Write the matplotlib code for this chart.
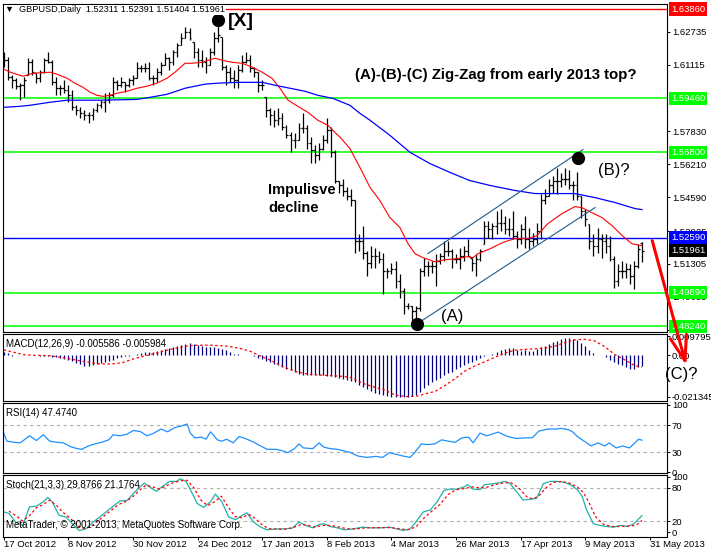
import matplotlib
matplotlib.use("Agg")
import matplotlib.pyplot as plt
from matplotlib.patches import FancyArrowPatch

plt.rcParams['font.family'] = ['Liberation Sans', 'DejaVu Sans']

W, H = 711, 551

# ---- data ----
dates = ["17 Oct 2012", "8 Nov 2012", "30 Nov 2012", "24 Dec 2012", "17 Jan 2013",
         "8 Feb 2013", "4 Mar 2013", "26 Mar 2013", "17 Apr 2013", "9 May 2013", "31 May 2013"]
date_bars = [0, 16, 32, 48, 64, 80, 96, 112, 128, 144, 160]

high = [1.6174, 1.6149, 1.6060, 1.6045, 1.6021, 1.6050, 1.6144, 1.6139, 1.6070, 1.6085,
        1.6144, 1.6174, 1.6134, 1.6050, 1.6011, 1.6035, 1.6011, 1.5986, 1.5912, 1.5902,
        1.5887, 1.5877, 1.5897, 1.5922, 1.5937, 1.5971, 1.5976, 1.6050, 1.6035, 1.6050,
        1.6025, 1.6045, 1.6060, 1.6124, 1.6109, 1.6119, 1.6124, 1.6060, 1.6095, 1.6124,
        1.6169, 1.6149, 1.6184, 1.6218, 1.6267, 1.6297, 1.6292, 1.6223, 1.6193, 1.6184,
        1.6149, 1.6193, 1.6272, 1.6381, 1.6248, 1.6109, 1.6100, 1.6085, 1.6109, 1.6159,
        1.6174, 1.6159, 1.6100, 1.6075, 1.6035, 1.5951, 1.5897, 1.5887, 1.5897, 1.5872,
        1.5813, 1.5778, 1.5774, 1.5823, 1.5872, 1.5813, 1.5754, 1.5714, 1.5724, 1.5764,
        1.5848, 1.5803, 1.5690, 1.5541, 1.5551, 1.5507, 1.5502, 1.5443, 1.5280, 1.5319,
        1.5196, 1.5220, 1.5210, 1.5196, 1.5186, 1.5112, 1.5136, 1.5146, 1.5082, 1.5013,
        1.4939, 1.4924, 1.4924, 1.5112, 1.5161, 1.5146, 1.5146, 1.5181, 1.5186, 1.5245,
        1.5245, 1.5205, 1.5181, 1.5210, 1.5220, 1.5255, 1.5161, 1.5181, 1.5205, 1.5344,
        1.5344, 1.5334, 1.5393, 1.5403, 1.5368, 1.5359, 1.5393, 1.5294, 1.5329, 1.5368,
        1.5309, 1.5284, 1.5334, 1.5477, 1.5502, 1.5551, 1.5566, 1.5601, 1.5576, 1.5601,
        1.5591, 1.5541, 1.5581, 1.5467, 1.5403, 1.5329, 1.5280, 1.5309, 1.5280, 1.5280,
        1.5270, 1.5171, 1.5131, 1.5146, 1.5136, 1.5131, 1.5146, 1.5230, 1.52391]
low = [1.6100, 1.6035, 1.5996, 1.5991, 1.5937, 1.5951, 1.6060, 1.6060, 1.6021, 1.6025,
       1.6070, 1.6119, 1.6011, 1.5961, 1.5961, 1.5971, 1.5927, 1.5887, 1.5862, 1.5848,
       1.5838, 1.5823, 1.5838, 1.5877, 1.5897, 1.5877, 1.5922, 1.5951, 1.5986, 1.6001,
       1.5976, 1.6001, 1.6011, 1.6045, 1.6075, 1.6075, 1.6035, 1.6011, 1.6025, 1.6060,
       1.6109, 1.6085, 1.6109, 1.6149, 1.6208, 1.6243, 1.6233, 1.6144, 1.6100, 1.6100,
       1.6070, 1.6109, 1.6159, 1.6223, 1.6085, 1.6011, 1.6025, 1.5996, 1.5996, 1.6075,
       1.6119, 1.6075, 1.6050, 1.5976, 1.5986, 1.5853, 1.5813, 1.5803, 1.5813, 1.5788,
       1.5749, 1.5680, 1.5704, 1.5739, 1.5774, 1.5699, 1.5630, 1.5630, 1.5640, 1.5690,
       1.5724, 1.5655, 1.5527, 1.5482, 1.5467, 1.5443, 1.5418, 1.5186, 1.5196, 1.5156,
       1.5072, 1.5112, 1.5112, 1.5136, 1.4983, 1.5062, 1.5082, 1.5013, 1.4963, 1.4884,
       1.4909, 1.4850, 1.4835, 1.4899, 1.5072, 1.5072, 1.5087, 1.5023, 1.5131, 1.5146,
       1.5171, 1.5112, 1.5136, 1.5107, 1.5146, 1.5171, 1.5097, 1.5072, 1.5146, 1.5230,
       1.5260, 1.5255, 1.5280, 1.5294, 1.5280, 1.5270, 1.5255, 1.5210, 1.5230, 1.5210,
       1.5205, 1.5220, 1.5230, 1.5255, 1.5428, 1.5467, 1.5482, 1.5477, 1.5507, 1.5517,
       1.5502, 1.5443, 1.5443, 1.5359, 1.5319, 1.5205, 1.5171, 1.5186, 1.5161, 1.5186,
       1.5146, 1.5013, 1.5023, 1.5062, 1.5062, 1.5033, 1.5008, 1.5112, 1.51404]
opens = [1.6144, 1.6134, 1.6050, 1.6035, 1.6006, 1.6011, 1.6060, 1.6124, 1.6070, 1.6045,
         1.6075, 1.6134, 1.6124, 1.6025, 1.5996, 1.5996, 1.5986, 1.5961, 1.5902, 1.5887,
         1.5872, 1.5862, 1.5862, 1.5887, 1.5912, 1.5927, 1.5937, 1.5961, 1.6025, 1.6011,
         1.6025, 1.6011, 1.6035, 1.6045, 1.6095, 1.6095, 1.6095, 1.6045, 1.6045, 1.6075,
         1.6109, 1.6144, 1.6124, 1.6174, 1.6208, 1.6243, 1.6272, 1.6223, 1.6174, 1.6134,
         1.6124, 1.6109, 1.6174, 1.6243, 1.6248, 1.6100, 1.6075, 1.6045, 1.6035, 1.6085,
         1.6124, 1.6134, 1.6095, 1.6075, 1.6011, 1.5951, 1.5887, 1.5862, 1.5838, 1.5848,
         1.5803, 1.5764, 1.5739, 1.5739, 1.5798, 1.5798, 1.5724, 1.5690, 1.5665, 1.5699,
         1.5739, 1.5788, 1.5680, 1.5541, 1.5517, 1.5492, 1.5467, 1.5443, 1.5245, 1.5245,
         1.5186, 1.5136, 1.5171, 1.5171, 1.5156, 1.5097, 1.5097, 1.5107, 1.5047, 1.4998,
         1.4924, 1.4924, 1.4899, 1.4914, 1.5097, 1.5121, 1.5121, 1.5121, 1.5146, 1.5171,
         1.5196, 1.5196, 1.5156, 1.5156, 1.5171, 1.5196, 1.5161, 1.5136, 1.5156, 1.5230,
         1.5319, 1.5304, 1.5319, 1.5334, 1.5334, 1.5304, 1.5304, 1.5270, 1.5255, 1.5304,
         1.5255, 1.5245, 1.5255, 1.5294, 1.5443, 1.5467, 1.5517, 1.5541, 1.5541, 1.5551,
         1.5551, 1.5517, 1.5517, 1.5467, 1.5393, 1.5329, 1.5245, 1.5220, 1.5255, 1.5245,
         1.5220, 1.5156, 1.5047, 1.5097, 1.5097, 1.5107, 1.5072, 1.5121, 1.52311]
close = [1.6134, 1.6050, 1.6035, 1.6006, 1.6011, 1.6035, 1.6124, 1.6075, 1.6045, 1.6075,
         1.6134, 1.6124, 1.6025, 1.5996, 1.5996, 1.5986, 1.5961, 1.5902, 1.5887, 1.5872,
         1.5862, 1.5862, 1.5887, 1.5912, 1.5927, 1.5937, 1.5961, 1.6025, 1.6011, 1.6025,
         1.6011, 1.6035, 1.6045, 1.6095, 1.6095, 1.6095, 1.6045, 1.6045, 1.6075, 1.6109,
         1.6144, 1.6124, 1.6174, 1.6208, 1.6243, 1.6272, 1.6243, 1.6174, 1.6134, 1.6124,
         1.6109, 1.6174, 1.6243, 1.6258, 1.6100, 1.6075, 1.6045, 1.6035, 1.6085, 1.6124,
         1.6134, 1.6095, 1.6075, 1.6011, 1.6011, 1.5887, 1.5862, 1.5838, 1.5848, 1.5803,
         1.5764, 1.5739, 1.5739, 1.5798, 1.5798, 1.5724, 1.5690, 1.5665, 1.5699, 1.5739,
         1.5788, 1.5680, 1.5541, 1.5517, 1.5492, 1.5467, 1.5443, 1.5245, 1.5245, 1.5186,
         1.5136, 1.5171, 1.5171, 1.5156, 1.5097, 1.5097, 1.5107, 1.5047, 1.4998, 1.4924,
         1.4924, 1.4899, 1.4914, 1.5097, 1.5121, 1.5121, 1.5121, 1.5146, 1.5171, 1.5196,
         1.5196, 1.5156, 1.5156, 1.5171, 1.5196, 1.5171, 1.5136, 1.5156, 1.5196, 1.5319,
         1.5304, 1.5319, 1.5334, 1.5334, 1.5304, 1.5304, 1.5270, 1.5255, 1.5304, 1.5255,
         1.5245, 1.5255, 1.5294, 1.5443, 1.5467, 1.5517, 1.5541, 1.5541, 1.5551, 1.5551,
         1.5517, 1.5517, 1.5467, 1.5393, 1.5354, 1.5245, 1.5220, 1.5255, 1.5245, 1.5220,
         1.5156, 1.5047, 1.5097, 1.5097, 1.5107, 1.5072, 1.5121, 1.5205, 1.51961]

# moving averages (bar, price)
ma_red_bar = [0, 1.6, 4.8, 7.3, 11.5, 13.2, 15.7, 17.6, 19.6, 21.4, 23.1, 24.6, 26.3, 28, 30.5,
              33, 35.5, 37.9, 40.4, 42.4, 44.9, 46.6, 49.1, 52.3, 54, 56.5, 59, 61.5, 64, 66.4,
              68.4, 70.4, 72.8, 75.3, 77.8, 80.3, 82, 83.3, 85.7, 88.2, 90.7, 93.1, 95.6, 98.1,
              100.1, 101.8, 103.8, 106.8, 109.2, 112.2, 114.7, 116.2, 117.4, 120.4, 122.9,
              124.1, 126.6, 129.8, 132, 134.7, 138.2, 141.4, 143.1, 145.6, 148.1, 150.6,
              153.1, 155.5, 158]
ma_red = [1.6090, 1.6075, 1.6055, 1.6070, 1.6075, 1.6065, 1.6045, 1.6021, 1.6001, 1.5976,
          1.5961, 1.5956, 1.5961, 1.5971, 1.5981, 1.5996, 1.6006, 1.6021, 1.6045, 1.6075,
          1.6119, 1.6119, 1.6124, 1.6144, 1.6134, 1.6124, 1.6119, 1.6100, 1.6075, 1.6045,
          1.5996, 1.5937, 1.5907, 1.5877, 1.5838, 1.5813, 1.5778, 1.5754, 1.5699, 1.5605,
          1.5507, 1.5443, 1.5359, 1.5309, 1.5230, 1.5181, 1.5161, 1.5141, 1.5151, 1.5156,
          1.5166, 1.5161, 1.5181, 1.5205, 1.5230, 1.5240, 1.5255, 1.5255, 1.5270, 1.5329,
          1.5378, 1.5413, 1.5408, 1.5383, 1.5359, 1.5319, 1.5270, 1.5230, 1.5220]
ma_blue_bar = [0, 4, 6.5, 11.5, 15.7, 23.8, 33, 36.2, 40.4, 44.9, 49.8, 53, 58, 64, 67.1, 69.6,
               74.6, 77.8, 81.5, 85.7, 88.2, 90.7, 95.6, 100.6, 105.5, 110.5, 115.4, 120.4,
               126.6, 131.5, 136.5, 141.4, 146.4, 151.3, 156.3, 158]
ma_blue = [1.5902, 1.5907, 1.5912, 1.5927, 1.5937, 1.5937, 1.5941, 1.5951, 1.5966, 1.5996,
           1.6016, 1.6021, 1.6025, 1.6025, 1.6011, 1.6001, 1.5981, 1.5961, 1.5946, 1.5912,
           1.5872, 1.5838, 1.5764, 1.5680, 1.5625, 1.5581, 1.5541, 1.5517, 1.5492, 1.5477,
           1.5477, 1.5477, 1.5457, 1.5433, 1.5403, 1.5398]

green_levels = [1.59460, 1.56800, 1.49890, 1.48240]
blue_level = 1.52590
red_level = 1.63860
last_price = 1.51961
price_ticks = [1.62735, 1.61115, 1.57830, 1.56210, 1.54590, 1.52925, 1.51305, 1.49685, 1.48065]

chan_low_bar, chan_low = [102.3, 146.4], [1.4835, 1.5408]
chan_up_bar, chan_up = [105.0, 143.4], [1.5181, 1.5694]
pivot_bar = [53.0, 102.3, 142.2]
pivot_price = [1.6332, 1.4835, 1.5650]

macd_main = [0.0016, 0.0010, -0.0004, 0.0002, 0.0004, 0.0002, 0.0003, 0.0003, 0.0001, -0.0002,
             -0.0003, -0.0005, -0.0007, -0.0010, -0.0013, -0.0018, -0.0024, -0.0030, -0.0038, -0.0046,
             -0.0053, -0.0056, -0.0052, -0.0046, -0.0040, -0.0034, -0.0029, -0.0024, -0.0016, -0.0011,
             -0.0006, -0.0002, 0.0002, 0.0009, 0.0014, 0.0016, 0.0016, 0.0019, 0.0021, 0.0028,
             0.0033, 0.0038, 0.0043, 0.0047, 0.0054, 0.0058, 0.0065, 0.0058, 0.0051, 0.0047,
             0.0045, 0.0044, 0.0040, 0.0037, 0.0031, 0.0026, 0.0017, 0.0009, 0.0006, 0.0002,
             0.0001, 0.0000, -0.0006, -0.0012, -0.0018, -0.0028, -0.0034, -0.0047, -0.0052, -0.0058,
             -0.0068, -0.0076, -0.0088, -0.0094, -0.0101, -0.0101, -0.0100, -0.0101, -0.0100, -0.0101,
             -0.0104, -0.0107, -0.0111, -0.0116, -0.0119, -0.0124, -0.0130, -0.0137, -0.0152, -0.0162,
             -0.0172, -0.0183, -0.0192, -0.0200, -0.0205, -0.0208, -0.0211, -0.0212, -0.0212, -0.0213,
             -0.0213, -0.0210, -0.0205, -0.0190, -0.0168, -0.0150, -0.0137, -0.0125, -0.0115, -0.0103,
             -0.0092, -0.0085, -0.0070, -0.0060, -0.0050, -0.0040, -0.0033, -0.0026, -0.0015, -0.0005,
             0.0002, 0.0009, 0.0017, 0.0026, 0.0032, 0.0036, 0.0038, 0.0026, 0.0021, 0.0026,
             0.0021, 0.0022, 0.0030, 0.0044, 0.0050, 0.0058, 0.0066, 0.0073, 0.0082, 0.0087,
             0.0088, 0.0084, 0.0079, 0.0065, 0.0047, 0.0028, 0.0010, 0.0003, -0.0001, -0.0009,
             -0.0022, -0.0036, -0.0044, -0.0050, -0.0058, -0.0072, -0.0068, -0.0062, -0.005586]
macd_sig_bar = [0, 5, 7.3, 11.5, 15.7, 19.6, 23.8, 27, 29.5, 32, 34.5, 37, 39.4, 41.9, 44.4, 46.9,
                51, 55.3, 58.5, 61, 63.4, 65.9, 69.1, 72.6, 75.8, 80, 83.3, 85.7, 87.4, 89.4, 91.9,
                94.4, 96.9, 98.6, 100.1, 102.5, 104.8, 106.8, 109.2, 111.7, 114.2, 116.7, 119.1,
                121.6, 124.1, 126.6, 129, 131.5, 134, 136.5, 138.9, 141.4, 143.9, 146.4, 148.8,
                151.3, 153.8, 156.3, 158]
macd_sig = [0.0028, 0.0003, 0.0, -0.0002, -0.0016, -0.0031, -0.0044, -0.0044, -0.0037, -0.0019,
            -0.0005, 0.0007, 0.0021, 0.0033, 0.0044, 0.0051, 0.0052, 0.0047, 0.0035, 0.0021,
            -0.0002, -0.0024, -0.0058, -0.0085, -0.0098, -0.0103, -0.0107, -0.0112, -0.0129, -0.0147,
            -0.0164, -0.0178, -0.0204, -0.0208, -0.0212, -0.0208, -0.0195, -0.0185, -0.0155, -0.0120,
            -0.0080, -0.0054, -0.0033, -0.0010, 0.0012, 0.0026, 0.0030, 0.0033, 0.0038, 0.0047,
            0.0065, 0.0079, 0.0082, 0.0073, 0.0044, 0.0003, -0.0024, -0.0054, -0.005984]

rsi_bar = [0, 0.8, 2.5, 4.1, 5.3, 6.4, 8.1, 9.8, 11.4, 13.1, 14.8, 16.5, 18.2, 19.3, 21, 22.6,
           24.3, 26, 27.1, 28.8, 30.5, 32.2, 33.9, 35.5, 37.2, 38.9, 40.6, 42.3, 43.9, 45.4, 46.2,
           47.3, 49, 50.1, 51.2, 52.9, 54, 55.2, 56.8, 58.3, 60.2, 61.9, 63.6, 65.2, 67.5, 69.2,
           70.3, 72, 73.1, 74.2, 76.5, 78.1, 79.3, 80.9, 82.6, 84.3, 86, 87.7, 89.9, 92.1, 93.8,
           95.5, 97.2, 98.9, 100.6, 101.7, 103.4, 105, 106.7, 108.4, 110.1, 111.8, 113.4, 115.1,
           116.2, 117.9, 119.6, 122.4, 124.7, 126.9, 129.1, 130.8, 132.5, 134.7, 136.4, 138.1,
           139.8, 140.9, 142, 143.7, 145.4, 147.1, 148.8, 149.9, 151.6, 153.2, 154.9, 157.2, 158]
rsi = [58, 46, 44.5, 43.5, 49, 54, 47, 55.5, 46, 44.5, 43.5, 38, 35, 34, 39, 42, 44.5, 48, 55.5,
       54, 56.5, 62, 60, 54, 58, 64, 60, 66, 68.5, 71.5, 58, 51, 52, 49, 60, 48, 46, 49, 43.5, 53,
       49, 44.5, 39, 34, 34, 31.5, 29, 35, 42, 36, 35, 43.5, 37, 35, 34, 31.5, 29, 24, 22, 23.5,
       22, 29, 26.5, 24, 22, 29, 42, 41, 42, 48, 46, 44.5, 51, 52, 43.5, 58, 54, 59.5, 53, 50, 51,
       51, 61, 64, 64, 65, 63, 59.5, 53, 46, 39, 43.5, 39, 43.5, 36, 39, 36, 49, 47.474]

stoch_bar = [0, 1.3, 3, 4.7, 6.4, 8.1, 9.8, 10.9, 12, 13.7, 15.4, 17, 18.7, 20.4, 22.1, 23.8,
             25.4, 27.1, 28.8, 30.5, 32.2, 33.9, 34.8, 36.1, 37.8, 39.5, 41.1, 42.8, 43.7, 45.1,
             46.2, 47.9, 49.5, 51.2, 52.4, 54, 55.7, 57.4, 59.1, 60.2, 61.9, 63.6, 65.2, 67.5,
             69.7, 71.4, 73.1, 74.8, 76.5, 78.1, 79.3, 80.9, 82.6, 84.3, 86.5, 88.8, 91, 93.3,
             95.5, 97.2, 98.9, 100.6, 101.7, 103.9, 105.6, 107.3, 109, 110.6, 112.3, 114, 114.8,
             116.2, 117.9, 119, 120.7, 122.4, 124.1, 125.2, 126.9, 128.6, 130.3, 131.9, 133.6,
             135.3, 137, 138.7, 140.3, 142, 143.2, 144.3, 146, 147.6, 149.3, 151, 152.7, 154.4,
             156, 158]
stoch_main = [36.7, 33.6, 18, 12, 46, 47, 55, 62.7, 55, 30.5, 27.4, 15, 2.7, 5.8, 18, 27.4, 36.7,
              47, 56.5, 57, 70.7, 83, 89, 82, 74, 84, 92, 92, 96.7, 92, 77, 52, 44.7, 55, 68.9, 55,
              27.4, 22.5, 30.5, 34.8, 18, 8.9, 4, 5.8, 5.8, 7, 18, 12, 7.6, 13.8, 15, 10, 7.6, 4,
              5.8, 8.9, 7.6, 7.6, 8.9, 5.8, 2.7, 5.8, 15, 36.7, 40, 55, 75.7, 78, 78, 82, 86, 78,
              77, 86, 87.4, 89, 92, 89, 74, 58, 59.6, 61, 88, 92, 92, 90.5, 86, 77, 64.5, 40, 15,
              12, 10, 8.9, 12, 10, 15, 29.8766]
stoch_sig_bar = [1.3, 3, 4.7, 6.4, 8.1, 9.8, 11.4, 13.1, 14.8, 16.5, 18.2, 19.9, 21.6, 23.3, 25,
                 26.7, 28.4, 30.1, 31.8, 33.5, 35.2, 36.9, 38.6, 40.3, 42, 43.7, 45.4, 47.1, 48.8,
                 50.5, 52.2, 53.9, 55.6, 57.3, 59, 60.7, 62.4, 64.1, 65.8, 68, 70, 72, 73.7, 75.4,
                 77, 79, 81, 83, 85, 87, 89.5, 92, 94, 96, 98, 100, 102, 104, 106, 108, 110, 112,
                 114, 116, 118, 119.5, 121.5, 123.5, 125.5, 127.5, 129.5, 131, 132.5, 134.5, 136,
                 138, 140, 142, 143.5, 145, 146.5, 148.5, 150.5, 152.5, 154.5, 156.5, 158]
stoch_sig = [38, 30, 20, 30, 44, 50, 58, 48, 35, 25, 12, 6, 10, 20, 30, 40, 50, 55, 63, 75, 85,
             82, 78, 84, 90, 93, 94, 80, 58, 48, 55, 65, 45, 28, 26, 32, 24, 12, 6, 5, 5.5, 9, 14,
             12, 9, 12, 12, 9, 6, 5.5, 7.5, 8, 8, 8, 6, 4, 9, 25, 38, 50, 68, 77, 79, 82, 80, 81,
             86, 89, 90, 80, 64, 60, 66, 82, 90, 92, 89, 82, 72, 52, 28, 14, 10, 10, 11, 12, 21.1764]

XMIN, XMAX = -0.17, 164.2
X0, X1 = 3, 667


def panel(top, bottom):
    ax = fig.add_axes([X0 / W, 1 - bottom / H, (X1 - X0) / W, (bottom - top) / H])
    ax.set_xlim(XMIN, XMAX)
    for s in ax.spines.values():
        s.set_linewidth(0.8)
        s.set_color('black')
    ax.tick_params(left=False, labelleft=False, bottom=False, labelbottom=False,
                   right=True, labelright=True, direction='out', length=2, width=0.7,
                   labelsize=6.8, pad=1.5)
    return ax


def ftext(x, y, s, **kw):
    fig.text(x / W, 1 - y / H, s, **kw)


def tag(ax, value, s, fc):
    ax.text(1.0 + 4 / 664, value, s, transform=ax.get_yaxis_transform(), ha='left', va='center',
            fontsize=6.8, color='white', zorder=6, clip_on=False,
            bbox=dict(boxstyle='square,pad=0.22', fc=fc, ec='none'))


fig = plt.figure(figsize=(W / 100, H / 100), dpi=100)

# ---- main price window ----
ax = panel(4, 332)
ax.set_ylim(1.4795, 1.6411)
ax.set_yticks(price_ticks, [f"{v:.5f}" for v in price_ticks])
idx = list(range(len(high)))
ax.vlines(idx, low, high, color='black', lw=0.9)
ax.hlines(opens, [i - 0.45 for i in idx], idx, color='black', lw=0.9)
ax.hlines(close, idx, [i + 0.45 for i in idx], color='black', lw=0.9)
ax.plot(ma_red_bar, ma_red, color='red', lw=0.8)
ax.plot(ma_blue_bar, ma_blue, color='#0000FF', lw=0.9)
for g in green_levels:
    ax.axhline(g, color='#00FF00', lw=1.1, zorder=1)
    tag(ax, g, f"{g:.5f}", '#00FF00')
ax.axhline(blue_level, color='#0000FF', lw=1.0, zorder=1)
tag(ax, blue_level, f"{blue_level:.5f}", '#0000FF')
ax.axhline(red_level, color='red', lw=1.0, zorder=1)
tag(ax, red_level, f"{red_level:.5f}", '#FF0000')
tag(ax, last_price, f"{last_price:.5f}", 'black')
ax.plot(chan_low_bar, chan_low, color='#1F5A8C', lw=0.8)
ax.plot(chan_up_bar, chan_up, color='#1F5A8C', lw=0.8)
ax.plot(pivot_bar, pivot_price, 'o', color='black', ms=8.5, zorder=7)

ftext(5, 10, "\u25bc  GBPUSD,Daily  1.52311 1.52391 1.51404 1.51961", fontsize=6.6, va='center',
      bbox=dict(boxstyle='square,pad=0.1', fc='white', ec='none'), zorder=8)
ftext(228, 22, "[X]", fontsize=14, fontweight='bold', va='center', zorder=9)
ftext(355, 75, "(A)-(B)-(C) Zig-Zag from early 2013 top?", fontsize=10.8, fontweight='bold',
      va='center')
ftext(268, 190, "Impulisve", fontsize=10.5, fontweight='bold', va='center')
ftext(268, 208, "decline", fontsize=10.5, fontweight='bold', va='center')
ftext(441, 316, "(A)", fontsize=12, va='center')
ftext(598, 170, "(B)?", fontsize=12, va='center')

# ---- MACD ----
ax2 = panel(334, 401)
ax2.set_ylim(-0.0234, 0.0109)
ax2.set_yticks([0.009795, 0.0, -0.021345], ["0.009795", "0.00", "-0.021345"])
ax2.vlines(idx, 0, macd_main, color='#000080', lw=0.9)
ax2.plot(macd_sig_bar, macd_sig, color='red', lw=0.9, ls=(0, (2, 2)))
ftext(6, 344, "MACD(12,26,9) -0.005586 -0.005984", fontsize=7, va='center')

# ---- RSI ----
ax3 = panel(403, 473)
ax3.set_ylim(-1.1, 102.6)
ax3.set_yticks([100, 70, 30, 0], ["100", "70", "30", "0"])
for lv in (70, 30):
    ax3.axhline(lv, color='#B0B0B0', lw=0.8, ls=(0, (3, 3)))
ax3.plot(rsi_bar, rsi, color='#1E90FF', lw=0.9)
ftext(6, 413, "RSI(14) 47.4740", fontsize=7, va='center')

# ---- Stochastic ----
ax4 = panel(475, 537)
ax4.set_ylim(-9, 103.6)
ax4.set_yticks([100, 80, 20, 0], ["100", "80", "20", "0"])
for lv in (80, 20):
    ax4.axhline(lv, color='#B0B0B0', lw=0.8, ls=(0, (3, 3)))
ax4.plot(stoch_bar, stoch_main, color='#20B2AA', lw=0.9)
ax4.plot(stoch_sig_bar, stoch_sig, color='red', lw=0.9, ls=(0, (2, 2)))
ftext(6, 485, "Stoch(21,3,3) 29.8766 21.1764", fontsize=7, va='center')
ftext(6, 525, "MetaTrader, \u00a9 2001-2013, MetaQuotes Software Corp.", fontsize=7, va='center')
ax4.set_xticks(date_bars, dates)
ax4.tick_params(axis='x', bottom=True, labelbottom=True, length=2, pad=0.5, labelsize=6.8)
for lab in ax4.get_xticklabels():
    lab.set_ha('left')

# ---- wave (C) projection arrow and label ----
fig.add_artist(FancyArrowPatch((651.5 / W, 1 - 238 / H), (687 / W, 1 - 368 / H),
                               transform=fig.transFigure, arrowstyle='->,head_length=1.8,head_width=0.6',
                               mutation_scale=10, color='red', lw=2.2, zorder=9))
ftext(665, 375, "(C)?", fontsize=12, va='center', zorder=10)

fig.savefig("out.png", dpi=100)
